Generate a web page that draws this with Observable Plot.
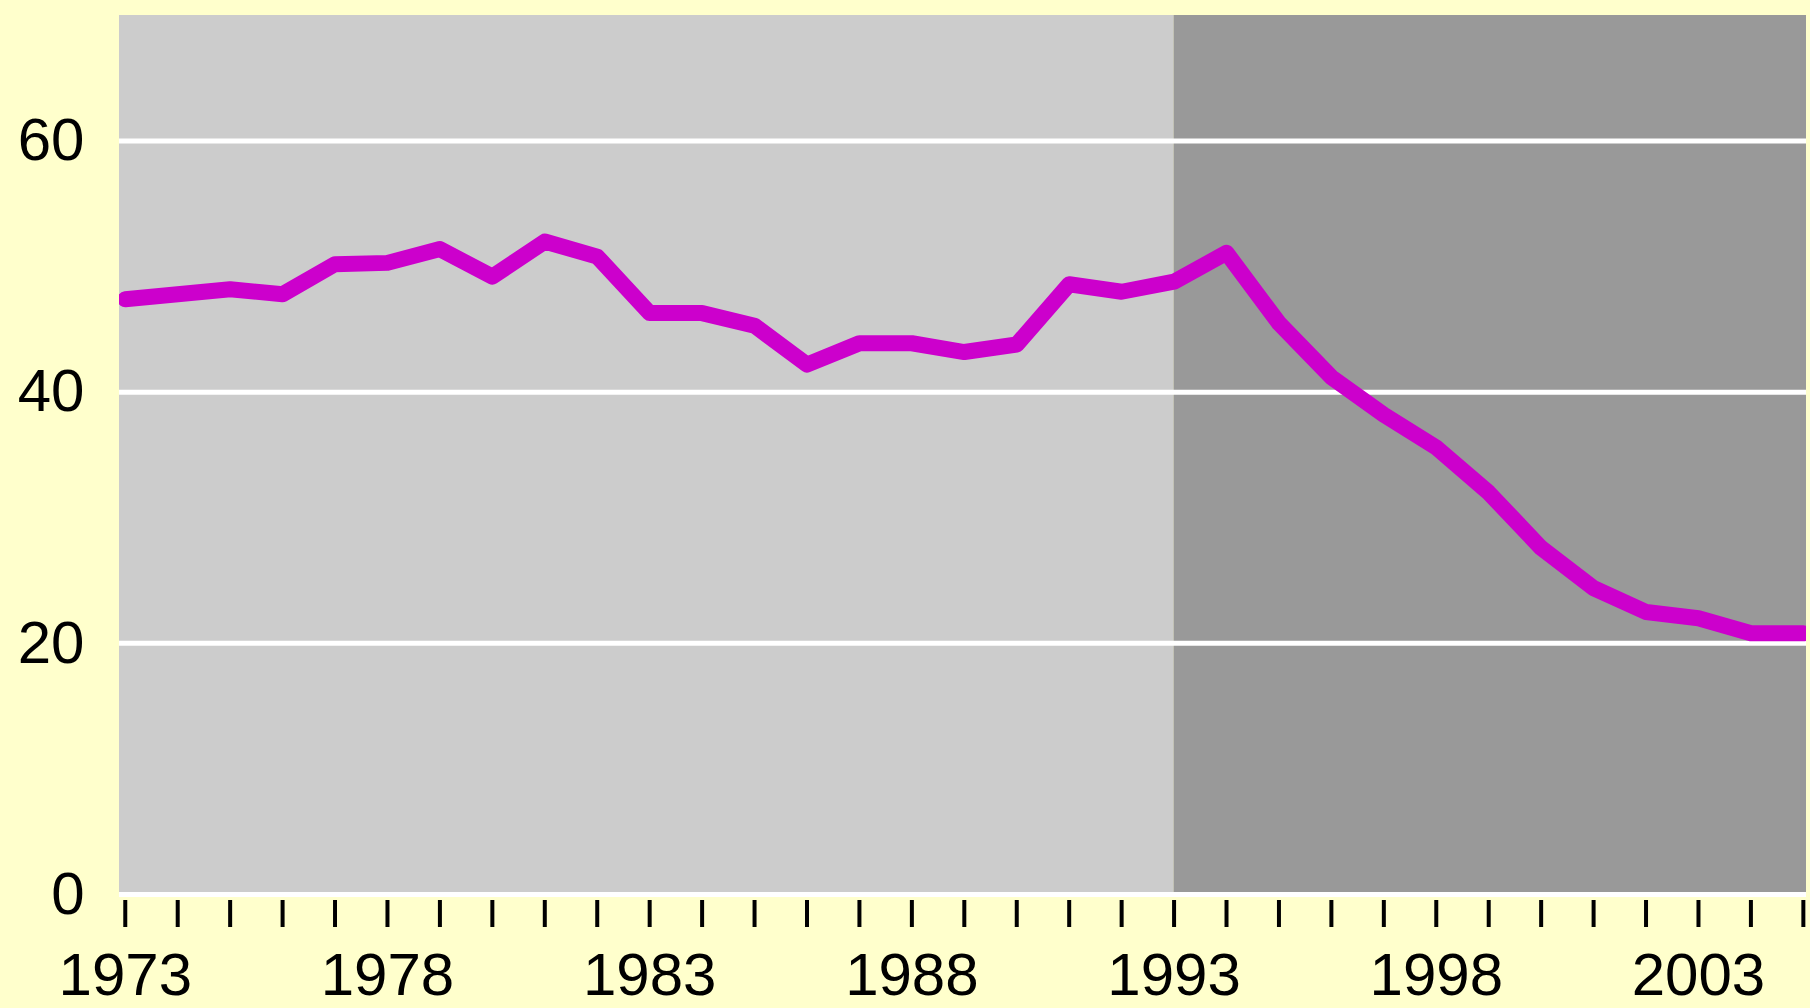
<!DOCTYPE html>
<html>
<head>
<meta charset="utf-8">
<script src="https://cdn.jsdelivr.net/npm/d3@7"></script>
<script src="https://cdn.jsdelivr.net/npm/@observablehq/plot@0.6"></script>
<style>
  html, body { margin: 0; padding: 0; background: #FFFFCC; }
  #chart svg { display: block; }
</style>
</head>
<body>
<div id="chart"></div>
<script>
const years = [1973,1974,1975,1976,1977,1978,1979,1980,1981,1982,1983,1984,1985,1986,1987,1988,1989,1990,1991,1992,1993,1994,1995,1996,1997,1998,1999,2000,2001,2002,2003,2004,2005];
const values = [47.4,47.8,48.2,47.8,50.2,50.3,51.4,49.2,52.0,50.8,46.3,46.3,45.3,42.2,43.9,43.9,43.2,43.8,48.6,48.0,48.8,51.1,45.5,41.2,38.2,35.6,32.0,27.6,24.4,22.5,22.0,20.8,20.8];
const tickYears = years;
const labelYears = [1973,1978,1983,1988,1993,1998,2003];
const yTicks = [0,20,40,60];
const xDomain = [1972.89, 2005.06];
const yDomain = [0, 70];
const periodStarts = [xDomain[0], 1993];
const periodEnds = [1993, xDomain[1]];
const periodFills = ["#CCCCCC", "#999999"];

const series = years.map((y, i) => ({year: y, value: values[i]}));
const periods = periodStarts.map((s, i) => ({x1: s, x2: periodEnds[i], fill: periodFills[i]}));

const font = "'Liberation Sans', Arial, sans-serif";

const chart = Plot.plot({
  width: 1810,
  height: 1008,
  marginLeft: 119,
  marginRight: 4,
  marginTop: 15,
  marginBottom: 114,
  style: {background: "#FFFFCC", fontFamily: font, color: "#000"},
  x: {domain: xDomain, axis: null},
  y: {domain: yDomain, axis: null},
  marks: [
    Plot.rect(periods, {x1: "x1", x2: "x2", y1: yDomain[0], y2: yDomain[1], fill: d => d.fill}),
    Plot.gridY(yTicks, {stroke: "#FFFFFF", strokeOpacity: 1, strokeWidth: 5}),
    Plot.line(series, {x: "year", y: "value", stroke: "#CC00CC", strokeWidth: 16, strokeLinejoin: "round", strokeLinecap: "round", clip: true}),
    Plot.axisX({ticks: tickYears, tickSize: 27, dy: 6, strokeWidth: 4, stroke: "#000", tickFormat: () => "", label: null}),
    Plot.axisX({ticks: labelYears, tickSize: 0, tickPadding: 58, fontSize: 60, fill: "#000", tickFormat: d => String(d), label: null}),
    Plot.axisY({ticks: yTicks, tickSize: 0, tickPadding: 35, fontSize: 60, fill: "#000", tickFormat: d => String(d), label: null})
  ]
});
document.getElementById("chart").appendChild(chart);
</script>
</body>
</html>
